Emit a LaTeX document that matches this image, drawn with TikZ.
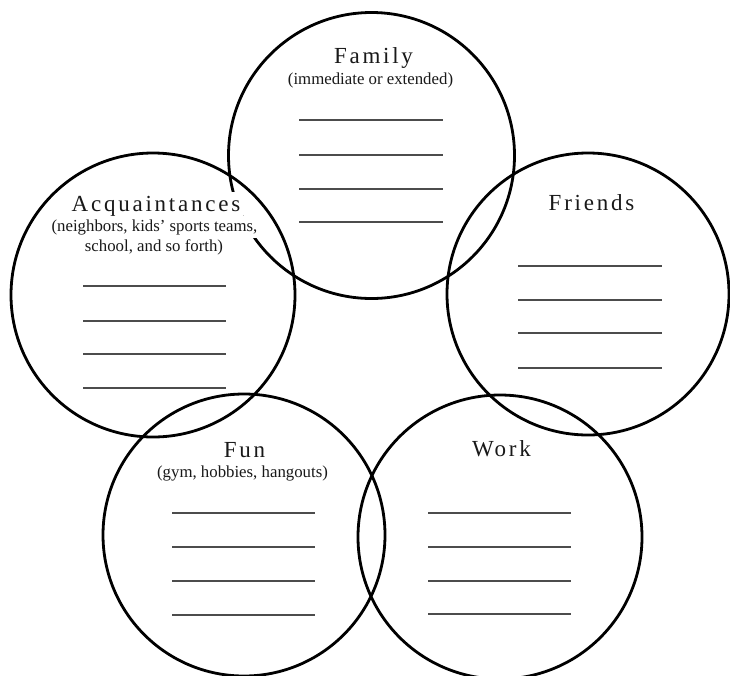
\documentclass[tikz,border=0pt]{standalone}
\usepackage{fontspec}
\setmainfont{Liberation Serif}
\newfontfamily\titlefont[LetterSpace=12]{Liberation Serif}
\begin{document}
\begin{tikzpicture}[x=1pt,y=-1pt,
  ring/.style={circle,draw=black,line width=2.8pt,inner sep=0pt},
  ttl/.style={anchor=base,font=\titlefont\fontsize{23}{27}\selectfont,text=black!90,fill=white,inner xsep=3pt,inner ysep=4pt},
  sub/.style={anchor=base,font=\fontsize{16.8}{20}\selectfont,text=black!90,fill=white,inner xsep=1pt,inner ysep=3pt},
  blank/.style={draw=black!70,line width=1.2pt}]
\useasboundingbox (0,0) rectangle (730,675);
\fill[white] (0,0) rectangle (730,675);
\begin{scope}
\clip (0,0) rectangle (730,675);
\node[ring,minimum size=286pt] (fam) at (371.5,155.5) {};
\node[ring,minimum size=284pt] (acq) at (153,295) {};
\node[ring,minimum size=282pt] (fri) at (588,294) {};
\node[ring,minimum size=282pt] (fun) at (244,535) {};
\node[ring,minimum size=284pt] (wrk) at (500,537) {};
\end{scope}
% Family
\node[ttl] (famt) at (373.5,63) {Family};
\node[sub] (fams) at (370.5,84) {(immediate or extended)};
\foreach \y in {120,155,189,222} \draw[blank] (299,\y) -- (443,\y);
% Acquaintances
\node[ttl] (acqt) at (156,211) {Acquaintances};
\node[sub] (acqs1) at (154.5,231) {(neighbors, kids' sports teams,};
\node[sub] (acqs2) at (154,251) {school, and so forth)};
\foreach \y in {286,321,354,388} \draw[blank] (83,\y) -- (226,\y);
% Friends
\node[ttl] (frit) at (591.5,210) {Friends};
\foreach \y in {266,300,333,368} \draw[blank] (518,\y) -- (662,\y);
% Fun
\node[ttl] (funt) at (244.5,457) {Fun};
\node[sub] (funs) at (242.5,477) {(gym, hobbies, hangouts)};
\foreach \y in {513,547,581,615} \draw[blank] (172,\y) -- (315,\y);
% Work
\node[ttl] (wrkt) at (501.5,456) {Work};
\foreach \y in {513,547,581,614} \draw[blank] (428,\y) -- (571,\y);
\end{tikzpicture}
\end{document}
